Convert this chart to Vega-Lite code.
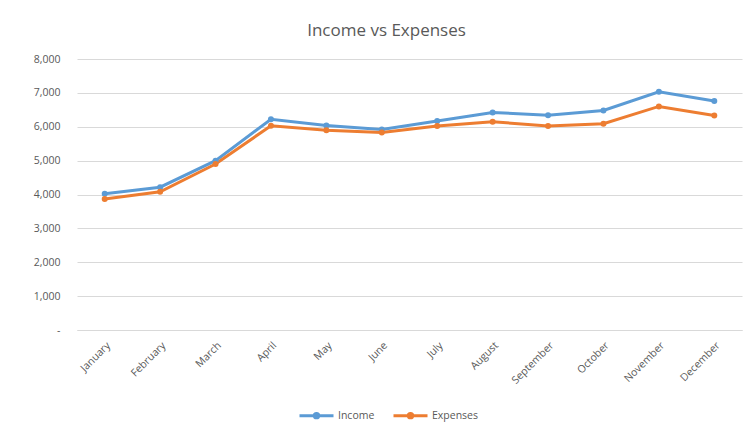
{
  "$schema": "https://vega.github.io/schema/vega-lite/v6.json",
  "width": 665,
  "height": 271,
  "autosize": {"type": "none"},
  "padding": {"left": 77, "top": 59, "right": 8, "bottom": 100},
  "background": "white",
  "title": {
    "text": "Income vs Expenses",
    "font": "Open Sans",
    "fontSize": 17,
    "fontWeight": "normal",
    "color": "#595959",
    "anchor": "middle",
    "dx": -23,
    "offset": 14
  },
  "data": {
    "values": [
      {"month": "January", "series": "Income", "value": 4020},
      {"month": "February", "series": "Income", "value": 4215},
      {"month": "March", "series": "Income", "value": 5000},
      {"month": "April", "series": "Income", "value": 6220},
      {"month": "May", "series": "Income", "value": 6040},
      {"month": "June", "series": "Income", "value": 5920},
      {"month": "July", "series": "Income", "value": 6170},
      {"month": "August", "series": "Income", "value": 6420},
      {"month": "September", "series": "Income", "value": 6340},
      {"month": "October", "series": "Income", "value": 6480},
      {"month": "November", "series": "Income", "value": 7030},
      {"month": "December", "series": "Income", "value": 6760},
      {"month": "January", "series": "Expenses", "value": 3870},
      {"month": "February", "series": "Expenses", "value": 4080},
      {"month": "March", "series": "Expenses", "value": 4900},
      {"month": "April", "series": "Expenses", "value": 6030},
      {"month": "May", "series": "Expenses", "value": 5900},
      {"month": "June", "series": "Expenses", "value": 5830},
      {"month": "July", "series": "Expenses", "value": 6020},
      {"month": "August", "series": "Expenses", "value": 6150},
      {"month": "September", "series": "Expenses", "value": 6020},
      {"month": "October", "series": "Expenses", "value": 6090},
      {"month": "November", "series": "Expenses", "value": 6600},
      {"month": "December", "series": "Expenses", "value": 6330}
    ]
  },
  "mark": {"type": "line", "strokeWidth": 3, "point": {"filled": true, "size": 36}},
  "encoding": {
    "x": {
      "field": "month",
      "type": "ordinal",
      "sort": null,
      "title": null,
      "scale": {"padding": 0.5},
      "axis": {
        "labelAngle": -45,
        "labelFont": "Open Sans",
        "labelFontSize": 10.5,
        "labelColor": "#595959",
        "ticks": false,
        "domainColor": "#d9d9d9",
        "labelPadding": 10,
        "grid": false
      }
    },
    "y": {
      "field": "value",
      "type": "quantitative",
      "title": null,
      "scale": {"domain": [0, 8000]},
      "axis": {
        "values": [0, 1000, 2000, 3000, 4000, 5000, 6000, 7000, 8000],
        "labelExpr": "datum.value == 0 ? '-' : format(datum.value, ',')",
        "labelFont": "Open Sans",
        "labelFontSize": 10.5,
        "labelColor": "#595959",
        "ticks": false,
        "domain": false,
        "labelPadding": 17,
        "gridColor": "#d9d9d9",
        "gridWidth": 1
      }
    },
    "color": {
      "field": "series",
      "type": "nominal",
      "scale": {"domain": ["Income", "Expenses"], "range": ["#5b9bd5", "#ed7d31"]},
      "legend": {
        "title": null,
        "orient": "none",
        "direction": "horizontal",
        "legendX": 221,
        "legendY": 338,
        "labelFont": "Open Sans",
        "labelFontSize": 10.5,
        "labelColor": "#595959",
        "symbolType": "M-1,0H1M-0.13,0a0.13,0.13 0 1,0 0.26,0a0.13,0.13 0 1,0 -0.26,0",
        "symbolSize": 1156,
        "symbolStrokeWidth": 3,
        "columnPadding": 12,
        "labelOffset": 3
      }
    }
  },
  "config": {"view": {"stroke": null}}
}
